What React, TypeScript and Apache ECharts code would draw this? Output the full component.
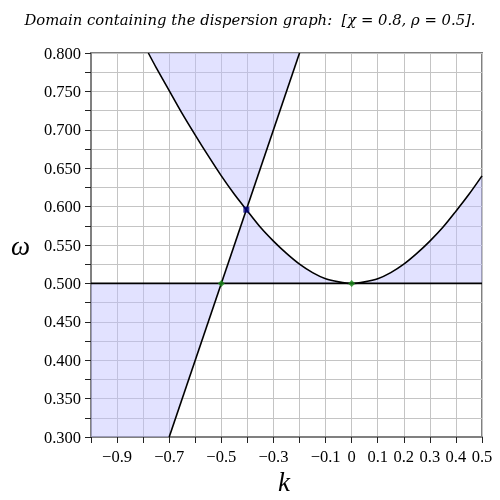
import React, { useEffect, useRef } from "react";
import * as echarts from "echarts";

// Dispersion curve ω(k)
const curveK = [-0.78, -0.75, -0.7, -0.65, -0.6, -0.55, -0.5, -0.45, -0.404, -0.35, -0.3, -0.25, -0.2, -0.15, -0.1, -0.05, 0, 0.05, 0.1, 0.15, 0.2, 0.25, 0.3, 0.35, 0.4, 0.45, 0.5];
const curveW = [0.8, 0.781, 0.751, 0.721, 0.693, 0.666, 0.64, 0.616, 0.596, 0.573, 0.555, 0.539, 0.525, 0.514, 0.506, 0.502, 0.5, 0.502, 0.506, 0.514, 0.525, 0.539, 0.555, 0.573, 0.594, 0.616, 0.64];
// Straight line
const lineK = [-0.7, -0.2];
const lineW = [0.3, 0.8];
// Horizontal line ω = 0.5
const baseK = [-1.0, 0.5];
const baseW = [0.5, 0.5];
// Marked points
const greenK = [-0.5, 0];
const greenW = [0.5, 0.5];
const crossK = [-0.404];
const crossW = [0.596];

const X_MIN = -1.0, X_MAX = 0.5, Y_MIN = 0.3, Y_MAX = 0.8;

const pts = (ks: number[], ws: number[]) => ks.map((k, i) => [k, ws[i]]);

const curve = pts(curveK, curveW);
const crossIdx = curveK.indexOf(crossK[0]);
const zeroIdx = curveK.indexOf(0);
const regions: number[][][] = [
  [...curve.slice(0, crossIdx + 1), [lineK[1], lineW[1]]],
  [...curve.slice(crossIdx, zeroIdx + 1), [greenK[0], greenW[0]]],
  [...curve.slice(zeroIdx), [X_MAX, baseW[0]]],
  [[X_MIN, baseW[0]], [greenK[0], greenW[0]], [lineK[0], lineW[0]], [X_MIN, Y_MIN]],
];

export default function App() {
  const ref = useRef<HTMLDivElement>(null);
  useEffect(() => {
    if (!ref.current) return;
    const chart = echarts.init(ref.current, null, { renderer: "svg" });
    const labelFont = { fontFamily: "Liberation Serif", fontSize: 16.5, color: "#000" };
    chart.setOption({
      animation: false,
      title: {
        text: "Domain containing the dispersion graph:  [χ = 0.8, ρ = 0.5].",
        left: "center",
        top: 7,
        textStyle: { fontFamily: "DejaVu Serif", fontStyle: "italic", fontWeight: "normal", fontSize: 14.8, color: "#000" },
      },
      grid: { left: 91, right: 18, top: 53, bottom: 63, show: true, borderColor: "#808080", borderWidth: 2 },
      xAxis: {
        type: "value",
        min: X_MIN,
        max: X_MAX,
        interval: 0.1,
        axisLine: { show: true, onZero: false, lineStyle: { color: "#808080", width: 2 } },
        axisTick: { show: true, length: 6, lineStyle: { color: "#222" } },
        axisLabel: {
          ...labelFont,
          margin: 11,
          formatter: (v: number) => {
            const t = Math.round(v * 10);
            if (t < 0 && t % 2 === 0) return "";
            if (t === 0) return "0";
            const s = (Math.abs(t) / 10).toFixed(1);
            return t < 0 ? "\u2212" + s : s;
          },
        },
        splitLine: { show: true, lineStyle: { color: "#c4c4c4", width: 1 } },
      },
      yAxis: {
        type: "value",
        min: Y_MIN,
        max: Y_MAX,
        interval: 0.025,
        axisLine: { show: true, onZero: false, lineStyle: { color: "#808080", width: 2 } },
        axisTick: { show: true, length: 6, lineStyle: { color: "#222" } },
        axisLabel: {
          ...labelFont,
          margin: 10,
          formatter: (v: number) => {
            const t = Math.round(v * 1000);
            if (t % 50 !== 0) return "";
            return (t / 1000).toFixed(3);
          },
        },
        splitLine: { show: true, lineStyle: { color: "#c4c4c4", width: 1 } },
      },
      graphic: [
        { type: "text", left: 11, top: 232, style: { text: "ω", font: "italic 27px 'Liberation Serif'", fill: "#000" } },
        { type: "text", left: 278, top: 468, style: { text: "k", font: "italic 27px 'Liberation Serif'", fill: "#000" } },
      ],
      series: [
        {
          type: "custom",
          z: 1,
          clip: true,
          data: regions.map((_, i) => [i]),
          encode: { x: -1, y: -1 },
          renderItem: (params: any, api: any) => {
            const poly = regions[params.dataIndex];
            return {
              type: "polygon",
              shape: { points: poly.map((p) => api.coord(p)) },
              style: { fill: "rgba(190,190,255,0.45)", stroke: null },
            };
          },
        },
        {
          type: "line",
          z: 3,
          data: curve,
          smooth: 0.3,
          showSymbol: false,
          lineStyle: { color: "#000", width: 1.6 },
        },
        {
          type: "line",
          z: 3,
          data: pts(lineK, lineW),
          showSymbol: false,
          lineStyle: { color: "#000", width: 1.6 },
        },
        {
          type: "line",
          z: 3,
          data: pts(baseK, baseW),
          showSymbol: false,
          lineStyle: { color: "#000", width: 1.6 },
        },
        {
          type: "scatter",
          z: 4,
          data: pts(greenK, greenW),
          symbol: "diamond",
          symbolSize: 7,
          itemStyle: { color: "#1a8a1a" },
        },
        {
          type: "scatter",
          z: 4,
          data: pts(crossK, crossW),
          symbol: "rect",
          symbolSize: 6,
          itemStyle: { color: "#000080" },
        },
      ],
    });
    return () => chart.dispose();
  }, []);
  return <div ref={ref} style={{ position: "fixed", left: 0, top: 0, width: 500, height: 500 }} />;
}
